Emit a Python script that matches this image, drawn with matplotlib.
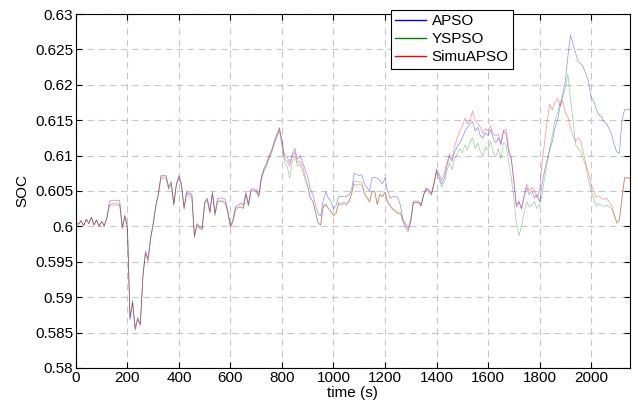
import numpy as np
import matplotlib
matplotlib.use("Agg")
import matplotlib.pyplot as plt

plt.rcParams['font.family'] = ['Liberation Sans', 'DejaVu Sans']

# tiempo (s), muestreado cada 10 s
t = np.arange(0, 2151, 10)

apso = [
    0.6005, 0.6003, 0.6008, 0.6001, 0.6010, 0.6004, 0.6013, 0.6002, 0.6009, 0.6000,
    0.6007, 0.6001, 0.6012, 0.6035, 0.6037, 0.6037, 0.6037, 0.6036, 0.6000, 0.6016,
    0.6000, 0.5868, 0.5894, 0.5855, 0.5870, 0.5860, 0.5930, 0.5965, 0.5955, 0.5985,
    0.6005, 0.6030, 0.6047, 0.6072, 0.6072, 0.6072, 0.6056, 0.6062, 0.6032, 0.6060,
    0.6072, 0.6060, 0.6027, 0.6050, 0.6047, 0.6046, 0.5987, 0.6004, 0.6000, 0.5998,
    0.6035, 0.6040, 0.6022, 0.6049, 0.6019, 0.6040, 0.6040, 0.6040, 0.6038, 0.6022,
    0.6001, 0.6010, 0.6028, 0.6030, 0.6033, 0.6030, 0.6048, 0.6032, 0.6053, 0.6053,
    0.6052, 0.6045, 0.6070, 0.6082, 0.6089, 0.6100, 0.6108, 0.6120, 0.6130, 0.6138,
    0.6122, 0.6100, 0.6098, 0.6090, 0.6102, 0.6110, 0.6095, 0.6100, 0.6091, 0.6080,
    0.6070, 0.6052, 0.6045, 0.6030, 0.6018, 0.6015, 0.6036, 0.6049, 0.6040, 0.6035,
    0.6025, 0.6030, 0.6042, 0.6042, 0.6042, 0.6042, 0.6045, 0.6051, 0.6075, 0.6073,
    0.6072, 0.6073, 0.6060, 0.6055, 0.6050, 0.6069, 0.6069, 0.6068, 0.6065, 0.6060,
    0.6068, 0.6050, 0.6040, 0.6042, 0.6042, 0.6040, 0.6030, 0.6010, 0.6004, 0.5998,
    0.6010, 0.6034, 0.6034, 0.6034, 0.6030, 0.6045, 0.6054, 0.6052, 0.6047, 0.6060,
    0.6080, 0.6070, 0.6060, 0.6068, 0.6085, 0.6099, 0.6092, 0.6105, 0.6112, 0.6118,
    0.6125, 0.6134, 0.6140, 0.6145, 0.6148, 0.6135, 0.6140, 0.6128, 0.6125, 0.6132,
    0.6128, 0.6137, 0.6125, 0.6118, 0.6125, 0.6115, 0.6135, 0.6130, 0.6105, 0.6095,
    0.6065, 0.6030, 0.6035, 0.6025, 0.6040, 0.6055, 0.6045, 0.6050, 0.6040, 0.6045,
    0.6035, 0.6060, 0.6080, 0.6095, 0.6110, 0.6120, 0.6140, 0.6150, 0.6170, 0.6185,
    0.6206, 0.6240, 0.6270, 0.6258, 0.6245, 0.6232, 0.6230, 0.6225, 0.6215, 0.6205,
    0.6182, 0.6178, 0.6165, 0.6158, 0.6155, 0.6148, 0.6145, 0.6138, 0.6130, 0.6115,
    0.6105, 0.6103, 0.6150, 0.6165, 0.6165, 0.6165,
]

yspso = [
    0.6005, 0.6003, 0.6008, 0.6001, 0.6010, 0.6004, 0.6013, 0.6002, 0.6009, 0.6000,
    0.6007, 0.6001, 0.6012, 0.6030, 0.6030, 0.6030, 0.6030, 0.6030, 0.5996, 0.6014,
    0.5996, 0.5872, 0.5896, 0.5858, 0.5872, 0.5862, 0.5930, 0.5962, 0.5950, 0.5982,
    0.6002, 0.6027, 0.6044, 0.6068, 0.6068, 0.6068, 0.6052, 0.6064, 0.6030, 0.6060,
    0.6068, 0.6056, 0.6024, 0.6046, 0.6042, 0.6040, 0.5984, 0.6002, 0.5997, 0.5995,
    0.6032, 0.6036, 0.6018, 0.6045, 0.6015, 0.6035, 0.6035, 0.6035, 0.6032, 0.6018,
    0.5998, 0.6006, 0.6024, 0.6026, 0.6027, 0.6025, 0.6045, 0.6028, 0.6050, 0.6050,
    0.6048, 0.6041, 0.6066, 0.6078, 0.6085, 0.6096, 0.6104, 0.6116, 0.6126, 0.6135,
    0.6112, 0.6090, 0.6085, 0.6068, 0.6090, 0.6100, 0.6085, 0.6088, 0.6078, 0.6065,
    0.6055, 0.6040, 0.6035, 0.6020, 0.6005, 0.6002, 0.6028, 0.6032, 0.6026, 0.6022,
    0.6016, 0.6020, 0.6034, 0.6032, 0.6035, 0.6032, 0.6036, 0.6046, 0.6064, 0.6063,
    0.6063, 0.6062, 0.6048, 0.6042, 0.6036, 0.6050, 0.6050, 0.6032, 0.6045, 0.6042,
    0.6048, 0.6034, 0.6028, 0.6024, 0.6021, 0.6018, 0.6018, 0.6006, 0.5998, 0.5992,
    0.6008, 0.6036, 0.6036, 0.6036, 0.6030, 0.6044, 0.6052, 0.6048, 0.6044, 0.6058,
    0.6076, 0.6066, 0.6056, 0.6062, 0.6078, 0.6090, 0.6080, 0.6095, 0.6102, 0.6110,
    0.6104, 0.6115, 0.6108, 0.6118, 0.6125, 0.6110, 0.6118, 0.6105, 0.6100, 0.6112,
    0.6108, 0.6120, 0.6105, 0.6098, 0.6110, 0.6095, 0.6118, 0.6115, 0.6090, 0.6070,
    0.6040, 0.6005, 0.5987, 0.6000, 0.6020, 0.6035, 0.6028, 0.6030, 0.6035, 0.6025,
    0.6030, 0.6045, 0.6070, 0.6090, 0.6110, 0.6130, 0.6150, 0.6160, 0.6175, 0.6185,
    0.6195, 0.6215, 0.6180, 0.6150, 0.6115, 0.6110, 0.6105, 0.6095, 0.6085, 0.6065,
    0.6050, 0.6040, 0.6029, 0.6032, 0.6030, 0.6028, 0.6030, 0.6028, 0.6025, 0.6015,
    0.6004, 0.6008, 0.6040, 0.6068, 0.6068, 0.6068,
]

simuapso = [
    0.6005, 0.6003, 0.6008, 0.6001, 0.6010, 0.6004, 0.6013, 0.6002, 0.6009, 0.6000,
    0.6007, 0.6001, 0.6012, 0.6030, 0.6032, 0.6032, 0.6032, 0.6031, 0.5998, 0.6014,
    0.5998, 0.5870, 0.5892, 0.5853, 0.5868, 0.5862, 0.5928, 0.5963, 0.5952, 0.5983,
    0.6003, 0.6028, 0.6045, 0.6070, 0.6070, 0.6070, 0.6054, 0.6060, 0.6030, 0.6058,
    0.6070, 0.6058, 0.6025, 0.6048, 0.6045, 0.6044, 0.5985, 0.6002, 0.5998, 0.5996,
    0.6033, 0.6038, 0.6020, 0.6047, 0.6017, 0.6036, 0.6036, 0.6036, 0.6034, 0.6020,
    0.5999, 0.6008, 0.6026, 0.6027, 0.6028, 0.6026, 0.6046, 0.6030, 0.6051, 0.6051,
    0.6050, 0.6043, 0.6068, 0.6080, 0.6087, 0.6098, 0.6106, 0.6118, 0.6128, 0.6140,
    0.6118, 0.6095, 0.6092, 0.6085, 0.6098, 0.6105, 0.6090, 0.6092, 0.6085, 0.6070,
    0.6058, 0.6040, 0.6036, 0.6020, 0.6005, 0.6002, 0.6028, 0.6030, 0.6025, 0.6020,
    0.6015, 0.6018, 0.6032, 0.6030, 0.6033, 0.6030, 0.6035, 0.6045, 0.6060, 0.6058,
    0.6060, 0.6058, 0.6045, 0.6040, 0.6034, 0.6049, 0.6049, 0.6030, 0.6045, 0.6042,
    0.6049, 0.6035, 0.6030, 0.6025, 0.6022, 0.6019, 0.6019, 0.6008, 0.6000, 0.5995,
    0.6005, 0.6034, 0.6034, 0.6034, 0.6028, 0.6045, 0.6054, 0.6050, 0.6045, 0.6062,
    0.6080, 0.6075, 0.6065, 0.6075, 0.6090, 0.6102, 0.6095, 0.6112, 0.6125, 0.6135,
    0.6140, 0.6153, 0.6145, 0.6150, 0.6163, 0.6150, 0.6145, 0.6140, 0.6131, 0.6138,
    0.6135, 0.6142, 0.6130, 0.6128, 0.6130, 0.6118, 0.6135, 0.6138, 0.6110, 0.6098,
    0.6065, 0.6027, 0.6035, 0.6025, 0.6045, 0.6060, 0.6050, 0.6055, 0.6050, 0.6040,
    0.6050, 0.6090, 0.6120, 0.6150, 0.6173, 0.6165, 0.6175, 0.6181, 0.6170, 0.6178,
    0.6160, 0.6155, 0.6140, 0.6128, 0.6121, 0.6125, 0.6120, 0.6105, 0.6088, 0.6075,
    0.6060, 0.6050, 0.6041, 0.6043, 0.6040, 0.6038, 0.6040, 0.6035, 0.6030, 0.6017,
    0.6006, 0.6010, 0.6040, 0.6069, 0.6069, 0.6069,
]

fig = plt.figure(figsize=(6.38, 4.05), dpi=100)
ax = fig.add_axes([0.119, 0.0914, 0.868, 0.874])

# líneas finas (estilo MATLAB)
ax.plot(t, apso, color="blue", lw=0.5, alpha=0.45, label="APSO")
ax.plot(t, yspso, color=(0, 0.5, 0), lw=0.5, alpha=0.4, label="YSPSO")
ax.plot(t, simuapso, color="red", lw=0.5, alpha=0.45, label="SimuAPSO")

ax.set_xlim(0, 2150)
ax.set_ylim(0.58, 0.63)
ax.set_xticks(np.arange(0, 2001, 200))
ax.set_yticks(np.arange(0.58, 0.6301, 0.005))
ax.set_yticklabels(["0.58", "0.585", "0.59", "0.595", "0.6", "0.605",
                    "0.61", "0.615", "0.62", "0.625", "0.63"])

ax.grid(True, color="#c8c8c8", linestyle=(0, (6, 4)), linewidth=0.8)
ax.tick_params(direction="in", top=True, right=True, length=4,
               labelsize=11, width=0.8, pad=2)
for s in ax.spines.values():
    s.set_linewidth(0.8)

ax.set_xlabel("time (s)", fontsize=11, labelpad=1)
ax.set_ylabel("SOC", fontsize=11, labelpad=4)

# leyenda: las muestras se dibujan opacas
leg = ax.legend(loc="upper right", bbox_to_anchor=(0.79, 1.012),
                fontsize=11, fancybox=False, framealpha=1, edgecolor="black",
                handlelength=2.0, labelspacing=0.25, borderpad=0.3,
                handletextpad=0.4, borderaxespad=0)
leg.get_frame().set_linewidth(0.8)
for line in leg.get_lines():
    line.set_alpha(1)
    line.set_linewidth(1.0)

fig.savefig("out.png", dpi=100)
